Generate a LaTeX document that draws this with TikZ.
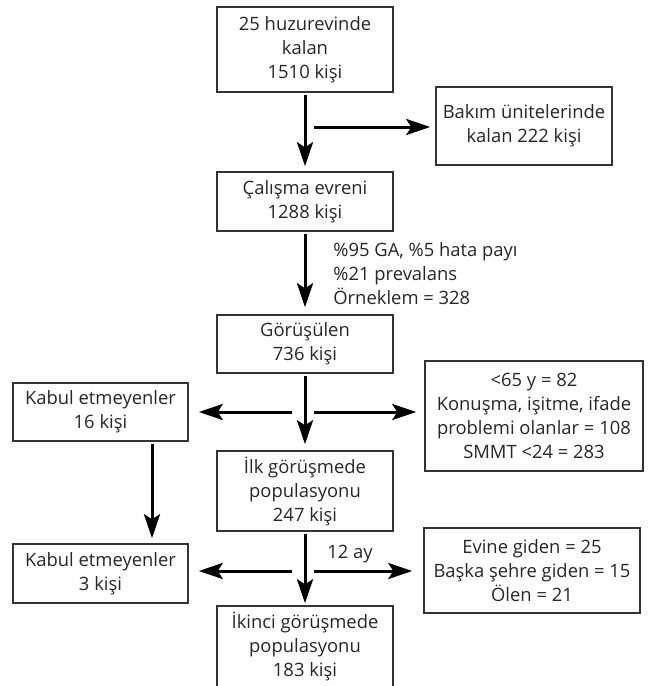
\documentclass[tikz,border=0pt]{standalone}
\usepackage{fontspec}
\setmainfont{Open Sans}
\usetikzlibrary{arrows.meta}
\tikzstyle{box}=[draw=black!80,line width=0.75pt,align=center,inner sep=0pt,text=black!85,font=\fontsize{9.2}{12}\selectfont]
\tikzstyle{flow}=[draw,line width=1.5pt,shorten <=1pt,-{Stealth[length=12pt,width=8pt,inset=2.5pt]}]
\tikzstyle{note}=[align=left,inner sep=0pt,text=black!85,font=\fontsize{9.2}{12}\selectfont]

\begin{document}
\begin{tikzpicture}[x=0.5pt,y=-0.5pt]
				\useasboundingbox (0,0) rectangle (649,686);

				% First we draw the boxes of the main column
				\foreach \pos/\name/\h/\txt in {{(305,49.5)/top/85/{25 huzurevinde\\kalan\\1510 kişi}}, {(305,201.5)/evren/59/{Çalışma evreni\\1288 kişi}}, {(305,344)/gorusulen/58/{Görüşülen\\736 kişi}}, {(305,491)/ilk/80/{İlk görüşmede\\populasyonu\\247 kişi}}, {(305,646.5)/ikinci/81/{İkinci görüşmede\\populasyonu\\183 kişi}}}
				\node[box,minimum width=88pt,minimum height=\h*0.5pt] (\name) at \pos {\txt};

				% Then the boxes at the sides
				\foreach \pos/\name/\w/\h/\txt in {{(524,126)/bakim/176/78/{Bakım ünitelerinde\\kalan 222 kişi}}, {(100.5,412)/red1/175/58/{Kabul etmeyenler\\16 kişi}}, {(534,416)/dislanan/218/110/{<65 y = 82\\Konuşma, işitme, ifade\\problemi olanlar = 108\\SMMT <24 = 283}}, {(100.5,573.5)/red2/175/59/{Kabul etmeyenler\\3 kişi}}, {(532,570.5)/kayip/216/85/{Evine giden = 25\\Başka şehre giden = 15\\Ölen = 21}}}
				\node[box,minimum width=\w*0.5pt,minimum height=\h*0.5pt] (\name) at \pos {\txt};

				\node[note,anchor=west] (orneklem) at (333,274) {\%95 GA, \%5 hata payı\\\%21 prevalans\\Örneklem = 328};
				\node[note] (ay) at (350,554) {12 ay};

				% Connect the boxes with arrows
				\foreach \source/\dest/\gap in {top/evren/2.5pt, evren/gorusulen/3.5pt, gorusulen/ilk/3pt, ilk/ikinci/1pt}
				\path[flow,shorten >=\gap] (\source) -- (\dest);
				\path[flow,shorten >=2.5pt] ([xshift=25.75pt]red1.south) -- ([xshift=25.75pt]red2.north);

				% Side arrows leave just beside the main line
				\coordinate (a1) at (314,127);
				\coordinate (a2) at (292,412);
				\coordinate (a3) at (314,412);
				\coordinate (a4) at (292,571);
				\coordinate (a5) at (314,571);
				\foreach \source/\dest/\gap in {a1/bakim.west/2.5pt, a2/red1.east/5pt, a3/dislanan.west/4pt, a4/red2.east/5pt, a5/kayip.west/5.5pt}
				\path[flow,shorten <=0pt,shorten >=\gap] (\source) -- (\source -| \dest);
			\end{tikzpicture}
\end{document}
